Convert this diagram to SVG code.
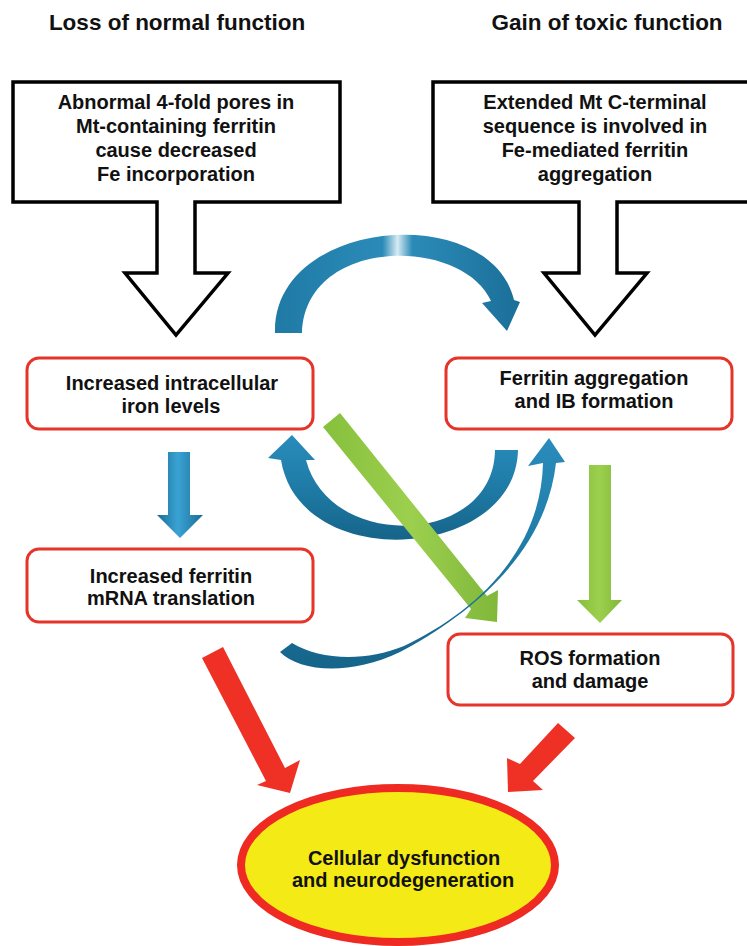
<svg xmlns="http://www.w3.org/2000/svg" width="747" height="946" viewBox="0 0 747 946">
  <defs>
    <linearGradient id="blueV" x1="0" y1="0" x2="0" y2="1">
      <stop offset="0" stop-color="#2a8cbc"/>
      <stop offset="0.5" stop-color="#1e7ba6"/>
      <stop offset="1" stop-color="#16648a"/>
    </linearGradient>
    <linearGradient id="blueH" x1="0" y1="0" x2="1" y2="0">
      <stop offset="0" stop-color="#1a6d96"/>
      <stop offset="0.45" stop-color="#3aa3d4"/>
      <stop offset="1" stop-color="#1a6d96"/>
    </linearGradient>
    <linearGradient id="greenG" x1="0" y1="0" x2="1" y2="0">
      <stop offset="0" stop-color="#86c03c"/>
      <stop offset="0.5" stop-color="#9ccf4e"/>
      <stop offset="1" stop-color="#80b83a"/>
    </linearGradient>
    <linearGradient id="arcG" x1="0" y1="0" x2="1" y2="0">
      <stop offset="0" stop-color="#1f7aa5"/>
      <stop offset="0.44" stop-color="#2b8bb8"/>
      <stop offset="0.5" stop-color="#d6eaf2"/>
      <stop offset="0.56" stop-color="#2b8bb8"/>
      <stop offset="1" stop-color="#1a6f98"/>
    </linearGradient>
  </defs>
  <style>
    text { font-family: "Liberation Sans", Arial, "DejaVu Sans", sans-serif; font-weight: bold; fill: #111; text-anchor: middle; }
    .title { font-size: 22.5px; }
    .t { font-size: 20px; }
    .outline { fill: #fff; stroke: #000; stroke-width: 3.5; stroke-linejoin: miter; }
    .rbox { fill: #fff; stroke: #e5352a; stroke-width: 3; }
    .red { fill: #ee3124; }
    .green { fill: url(#greenG); }
    .blue { fill: url(#blueV); }
  </style>

  <rect width="747" height="946" fill="#fff"/>

  <g id="title-left"><text class="title" x="177" y="30">Loss of normal function</text></g>
  <g id="title-right"><text class="title" x="607" y="30">Gain of toxic function</text></g>

  <g id="node-abnormal">
    <path class="outline" d="M13 82 H340 V202 H195 V273 H228 L176 335 L125 273 H157 V202 H13 Z"/>
    <text class="t" x="176" y="109">Abnormal 4-fold pores in</text>
    <text class="t" x="176" y="133">Mt-containing ferritin</text>
    <text class="t" x="176" y="157">cause decreased</text>
    <text class="t" x="176" y="181">Fe incorporation</text>
  </g>

  <g id="node-extended">
    <path class="outline" d="M433 82 H770 V202 H617 V273 H647 L595 335 L544 273 H579 V202 H433 Z"/>
    <text class="t" x="595" y="109">Extended Mt C-terminal</text>
    <text class="t" x="595" y="133">sequence is involved in</text>
    <text class="t" x="595" y="157">Fe-mediated ferritin</text>
    <text class="t" x="595" y="181">aggregation</text>
  </g>

  <g id="node-iron">
    <rect class="rbox" x="27" y="358" width="286" height="71" rx="12"/>
    <text class="t" x="172" y="390">Increased intracellular</text>
    <text class="t" x="171" y="413">iron levels</text>
  </g>

  <g id="node-aggregation">
    <rect class="rbox" x="446" y="358" width="286" height="71" rx="12"/>
    <text class="t" x="594" y="385">Ferritin aggregation</text>
    <text class="t" x="594" y="408">and IB formation</text>
  </g>

  <g id="node-mrna">
    <rect class="rbox" x="27" y="549" width="286" height="73" rx="12"/>
    <text class="t" x="171" y="583">Increased ferritin</text>
    <text class="t" x="171" y="605">mRNA translation</text>
  </g>

  <g id="node-ros">
    <rect class="rbox" x="448" y="634" width="285" height="71" rx="12"/>
    <text class="t" x="590" y="665">ROS formation</text>
    <text class="t" x="590" y="688">and damage</text>
  </g>

  <g id="node-dysfunction">
    <ellipse cx="398" cy="865" rx="157" ry="77" fill="#f4eb16" stroke="#ee2a22" stroke-width="8"/>
    <text class="t" x="404" y="865">Cellular dysfunction</text>
    <text class="t" x="403" y="887">and neurodegeneration</text>
  </g>

  <g id="connectors">
    <!-- top arc: iron levels -> aggregation -->
    <path fill="url(#arcG)" d="M275 333 C272 218 490 200 514 300 L520 302 L507 331 L482 303 L491 301 C462 236 305 236 302 333 Z"/>
    <!-- small down arrow: iron -> mRNA -->
    <path fill="url(#blueH)" d="M168 452 H190 V515 H203 L180 538 L157 515 H168 Z"/>
    <!-- U arrow: aggregation -> iron levels -->
    <path class="blue" d="M518 450 C516 560 300 575 281 460 L268 458 L292 435 L315 460 L306 460 C330 552 494 546 495 450 Z"/>
    <!-- green diagonal: iron -> ROS -->
    <path class="green" d="M340 413 L487 596 L498 590 L497 622 L465 618 L471 609 L323 427 Z"/>
    <!-- green vertical: aggregation -> ROS -->
    <path class="green" d="M589 465 H611 V600 H622 L600 623 L577 600 H589 Z"/>
    <!-- thin curved arrow: mRNA -> aggregation -->
    <path class="blue" d="M280 652 C300 672 350 676 400 652 C460 620 545 560 556 463 L565 462 L549 438 L528 466 L543 463 C541 556 469 615 404 646 C365 662 320 660 292 643 Z"/>
    <!-- red arrows -->
    <path class="red" d="M202 658 L223 647 L285 768 L300 760 L290 793 L257 785 L266 781 Z"/>
    <path class="red" d="M558 723 L575 738 L533 781 L543 790 L508 792 L507 758 L520 764 Z"/>
  </g>
</svg>
